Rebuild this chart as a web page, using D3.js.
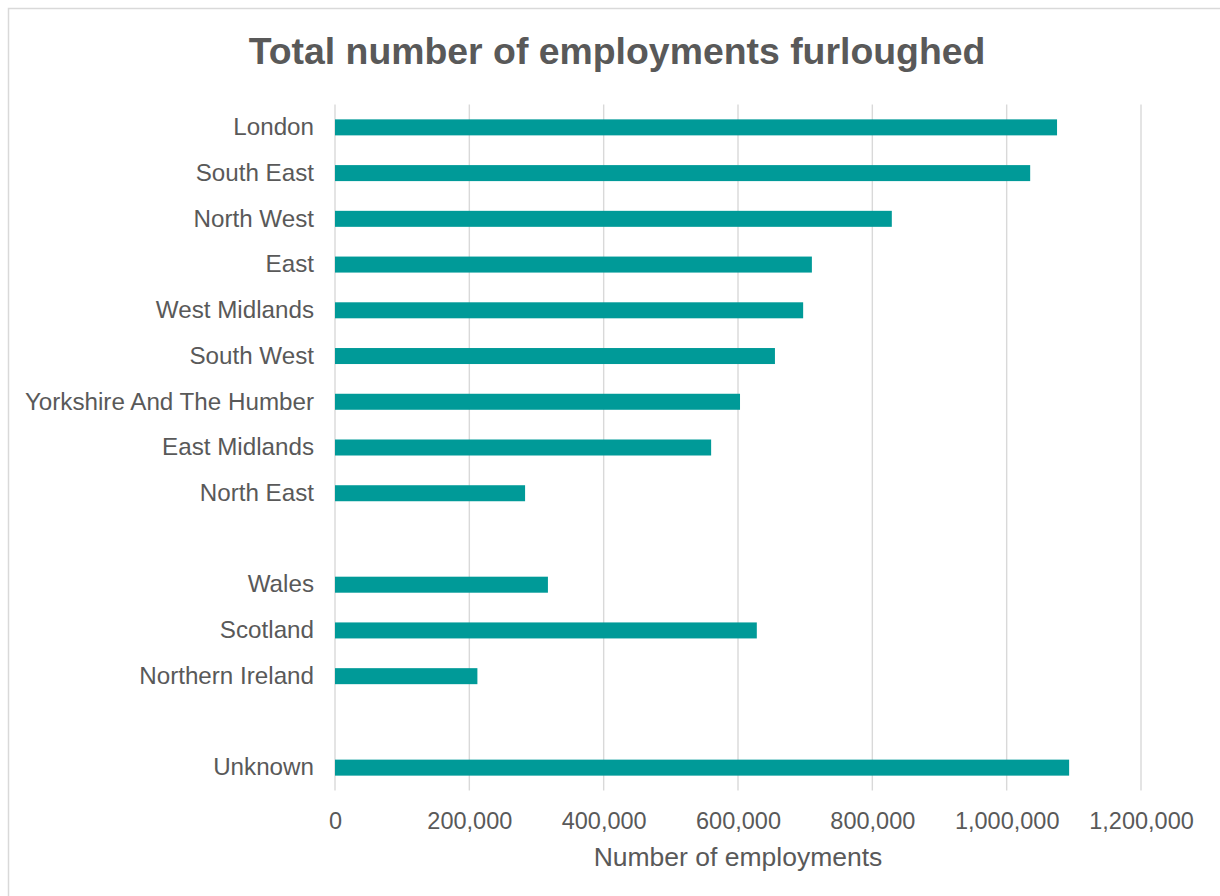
<!DOCTYPE html>
<html>
<head>
<meta charset="utf-8">
<script src="https://cdn.jsdelivr.net/npm/d3@7"></script>
<style>
  body { margin: 0; background: #fff; }
  svg { font-family: "Liberation Sans", Arial, sans-serif; }
</style>
</head>
<body>
<svg id="chart"></svg>
<script>
// regions, with empty slots where the original chart leaves a gap
var regions = ["London", "South East", "North West", "East", "West Midlands", "South West",
  "Yorkshire And The Humber", "East Midlands", "North East", "",
  "Wales", "Scotland", "Northern Ireland", "", "Unknown"];
var furloughed = [1075000, 1035000, 829000, 710000, 697000, 655000,
  603000, 560000, 283000, null,
  317000, 628000, 212000, null, 1093000];
var xTicks = [0, 200000, 400000, 600000, 800000, 1000000, 1200000];

var W = 1220, H = 896;
var margin = { top: 104.5, right: 79, bottom: 105.5, left: 335 };
var width = W - margin.left - margin.right;
var height = H - margin.top - margin.bottom;

var svg = d3.select("#chart").attr("width", W).attr("height", H);

// chart frame
svg.append("rect")
  .attr("x", 8.5).attr("y", 8.5)
  .attr("width", W + 20).attr("height", H + 20)
  .attr("fill", "none").attr("stroke", "#d9d9d9").attr("stroke-width", 1.5);

svg.append("text")
  .attr("x", 617).attr("y", 64)
  .attr("text-anchor", "middle")
  .attr("font-size", 37.4).attr("font-weight", "bold")
  .attr("fill", "#595959")
  .text("Total number of employments furloughed");

var g = svg.append("g").attr("transform", "translate(" + margin.left + "," + margin.top + ")");

var x = d3.scaleLinear().domain([0, 1200000]).range([0, width]);
var y = d3.scaleBand().domain(d3.range(regions.length)).range([0, height]).paddingInner(0.65).paddingOuter(0.325);

// grid lines
g.selectAll(".grid")
  .data(xTicks)
  .enter().append("line")
  .attr("class", "grid")
  .attr("x1", function(d) { return x(d); })
  .attr("x2", function(d) { return x(d); })
  .attr("y1", 0).attr("y2", height)
  .attr("stroke", "#d9d9d9").attr("stroke-width", 1.4);

// bars
g.selectAll(".bar")
  .data(furloughed.map(function(v, i) { return { i: i, v: v }; }).filter(function(d) { return d.v != null; }))
  .enter().append("rect")
  .attr("class", "bar")
  .attr("x", x(0))
  .attr("y", function(d) { return y(d.i); })
  .attr("width", function(d) { return x(d.v) - x(0); })
  .attr("height", y.bandwidth())
  .attr("fill", "#009a98");

// x axis
var xAxis = g.append("g")
  .attr("transform", "translate(0," + height + ")")
  .call(d3.axisBottom(x).tickValues(xTicks).tickSize(0).tickPadding(22).tickFormat(d3.format(",")));
xAxis.select(".domain").remove();
xAxis.selectAll("text").attr("font-size", 23.5).attr("fill", "#595959").attr("font-family", null);

// y axis
var yAxis = g.append("g")
  .call(d3.axisLeft(y).tickSize(0).tickPadding(21).tickFormat(function(i) { return regions[i]; }));
yAxis.select(".domain").remove();
yAxis.selectAll("text").attr("font-size", 24.2).attr("fill", "#595959").attr("font-family", null);

// axis title
svg.append("text")
  .attr("x", margin.left + width / 2).attr("y", 866)
  .attr("text-anchor", "middle")
  .attr("font-size", 26.5).attr("fill", "#595959")
  .text("Number of employments");
</script>
</body>
</html>
